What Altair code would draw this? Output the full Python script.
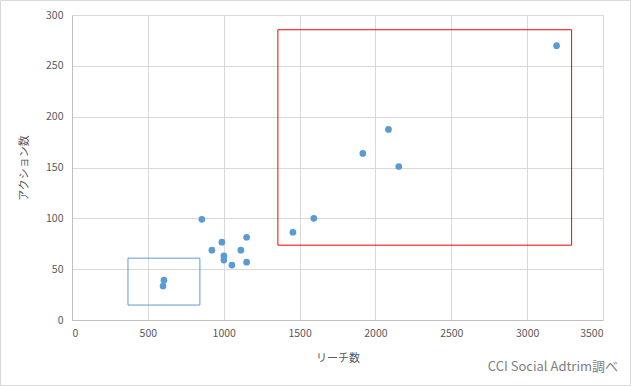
import altair as alt
import pandas as pd

# Scatter data (reach, actions)
reach = [600, 606, 856, 922, 988, 1001, 1001, 1054, 1113, 1151, 1151, 1456, 1594, 1917, 2086, 2154, 3194]
actions = [33.4, 39.2, 99, 68.7, 76.5, 63, 58.9, 54, 68.7, 81.4, 56.9, 86.3, 100, 163.8, 187.4, 151, 269.8]

# Highlight boxes
box_name = ["low", "high"]
box_x1 = [369, 1357]
box_x2 = [843, 3293]
box_y1 = [14.7, 73.6]
box_y2 = [60.8, 285.5]
box_color = ["#5b9bd5", "#ff0000"]

x_ticks = [0, 500, 1000, 1500, 2000, 2500, 3000, 3500]
y_ticks = [0, 50, 100, 150, 200, 250, 300]

credit = "CCI Social Adtrim調べ"
x_title = "リーチ数"
y_title = "アクション数"

FONT = "Noto Sans CJK JP"

pts = pd.DataFrame({"reach": reach, "actions": actions})
boxes = pd.DataFrame({"name": box_name, "x1": box_x1, "x2": box_x2,
                      "y1": box_y1, "y2": box_y2, "color": box_color})

xs = alt.Scale(domain=[0, 3500], nice=False, zero=True)
ys = alt.Scale(domain=[0, 300], nice=False, zero=True)

x_axis = alt.Axis(values=x_ticks, format="d", title=x_title, ticks=False, labelPadding=8,
                  titlePadding=14, grid=True)
y_axis = alt.Axis(values=y_ticks, format="d", title=y_title, ticks=False, labelPadding=9,
                  titlePadding=16, grid=True)

points = alt.Chart(pts).mark_circle(size=45, color="#5b9bd5", opacity=1).encode(
    x=alt.X("reach:Q", scale=xs, axis=x_axis),
    y=alt.Y("actions:Q", scale=ys, axis=y_axis),
)

rects = alt.Chart(boxes).mark_rect(fillOpacity=0, strokeWidth=1).encode(
    x=alt.X("x1:Q", scale=xs),
    x2="x2:Q",
    y=alt.Y("y1:Q", scale=ys),
    y2="y2:Q",
    stroke=alt.Stroke("color:N", scale=None),
)

frame = alt.Chart(pd.DataFrame({"a": [0]})).mark_rect(
    fill=None, stroke="#d9d9d9", strokeWidth=1
).encode(
    x=alt.value(-71.5), x2=alt.value(558.5),
    y=alt.value(-14.5), y2=alt.value(370.5),
)

note = alt.Chart(pd.DataFrame({"t": [credit]})).mark_text(
    align="right", baseline="middle", font=FONT, fontSize=13, color="#7f7f7f"
).encode(
    x=alt.value(546), y=alt.value(352), text="t:N"
)

chart = alt.layer(rects, points, frame, note).properties(
    width=531, height=305,
    autosize=alt.AutoSizeParams(type="none"),
    padding={"left": 72, "top": 15, "right": 28, "bottom": 66},
    background="white",
).configure_view(stroke=None).configure_axis(
    labelFont=FONT, titleFont=FONT, labelFontSize=10.5, titleFontSize=11,
    labelColor="#595959", titleColor="#595959", titleFontWeight="normal",
    gridColor="#d9d9d9", domainColor="#bfbfbf", gridWidth=1,
)

chart.save("out.html", embed_options={"renderer": "svg", "actions": False})
